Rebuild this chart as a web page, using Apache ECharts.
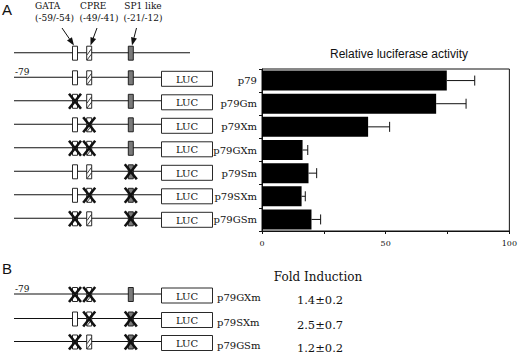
<!DOCTYPE html>
<html><head><meta charset="utf-8">
<script src="https://cdn.jsdelivr.net/npm/echarts@6/dist/echarts.min.js"></script>
<style>html,body{margin:0;padding:0;background:#fff;}#c{width:520px;height:353px;}</style>
</head><body><div id="c"></div>
<script>
// ---- data ----
const constructs = ['p79','p79Gm','p79Xm','p79GXm','p79Sm','p79SXm','p79GSm'];
const activity = [74.7,70.4,42.9,16.4,18.8,16.0,20.0];
const activitySd = [11.3,12.1,8.7,2.1,3.3,1.5,3.7];
const gataMut = [0,1,0,1,0,0,1];
const cpreMut = [0,0,1,1,0,1,0];
const sp1Mut  = [0,0,0,0,1,1,1];
const foldConstructs = ['p79GXm','p79SXm','p79GSm'];
const foldMean = [1.4,2.5,1.2];
const foldSd = [0.2,0.7,0.2];
const xTickLabels = [0,50,100];
const elementNames = ['GATA','CPRE','SP1 like'];
const elementPos = ['(-59/-54)','(-49/-41)','(-21/-12)'];

// ---- styles / layout ----
const SERIF = 'DejaVu Serif';
const SANS = 'Liberation Sans';
const INK = '#111';
const G = [];
function txt(t, x, y, size, align, valign, family, extra) {
  G.push(Object.assign({type:'text', silent:true, style:{text:t, x:x, y:y,
    font: size + 'px "' + (family||SERIF) + '"', fontSize:size, fontFamily:family||SERIF,
    fill:INK, align:align, verticalAlign:valign, textAlign:align, textVerticalAlign:valign}}, extra||{}));
}
function ln(x1,y1,x2,y2,w){ G.push({type:'line', silent:true, shape:{x1,y1,x2,y2}, style:{stroke:INK, lineWidth:w||1}}); }
function rect(x,y,w,h,fill){ G.push({type:'rect', silent:true, shape:{x,y,width:w,height:h}, style:{fill:fill, stroke:INK, lineWidth:0.9}}); }

const LX0 = 14, LUCX = 161.5, LUCW = 51, BW = 5, BH = 14;
const elemX = [75, 89.2, 130.8];

function cross(cx, cy){ ln(cx-6, cy-7.5, cx+6, cy+7.5, 2.6); ln(cx+6, cy-7.5, cx-6, cy+7.5, 2.6); }
function construct(y, gm, cm, sm, withLuc){
  ln(LX0, y, withLuc ? LUCX : 190, y, 1.1);
  const by = y - BH/2 + 0.5;
  // GATA
  rect(elemX[0]-BW/2, by, BW, BH, '#fff');
  // CPRE hatched
  rect(elemX[1]-BW/2, by, BW, BH, '#fff');
  ln(elemX[1]-BW/2+0.4, by+BH*0.62, elemX[1]+BW/2-0.4, by+BH*0.2, 0.8);
  ln(elemX[1]-BW/2+0.4, by+BH*0.98, elemX[1]+BW/2-0.4, by+BH*0.58, 0.8);
  // SP1 like
  rect(elemX[2]-BW/2, by, BW, BH, '#7a7a7a');
  if (gm) cross(elemX[0], y+0.5);
  if (cm) cross(elemX[1], y+0.5);
  if (sm) cross(elemX[2], y+0.5);
  if (withLuc){
    rect(LUCX, y-6, LUCW, 15, '#fff');
    txt('LUC', LUCX+LUCW/2, y+2, 10, 'center', 'middle');
  }
}

// panel letters
txt('A', 2, 9, 15, 'left', 'middle', SANS);
txt('B', 2, 268, 15, 'left', 'middle', SANS);

// element labels and arrows
txt(elementNames[0], 35, 5.5, 9, 'left', 'middle');
txt(elementPos[0], 35, 17.5, 9, 'left', 'middle');
txt(elementNames[1], 80, 5.5, 9, 'left', 'middle');
txt(elementPos[1], 79.5, 17.5, 9, 'left', 'middle');
txt(elementNames[2], 143, 5.5, 9, 'center', 'middle');
txt(elementPos[2], 143, 17.5, 9, 'center', 'middle');
function arrow(x1,y1,x2,y2){
  const dx=x2-x1, dy=y2-y1, L=Math.hypot(dx,dy), ux=dx/L, uy=dy/L;
  const hl=8, hw=3;
  const bx=x2-ux*hl, by=y2-uy*hl;
  ln(x1,y1,bx,by,1);
  G.push({type:'polygon', silent:true, shape:{points:[[x2,y2],[bx-uy*hw,by+ux*hw],[bx+uy*hw,by-ux*hw]]}, style:{fill:INK}});
}
arrow(62, 28, 74, 45.5);
arrow(97, 28, 90.5, 45.5);
arrow(136.5, 28, 132, 45.5);

// reference construct
construct(52.7, 0, 0, 0, false);

// panel A constructs
constructs.forEach((c, i) => {
  const y = 77.3 + 23.5*i;
  construct(y, gataMut[i], cpreMut[i], sp1Mut[i], true);
  if (i === 0) txt('-79', 15, y-5, 9, 'left', 'middle');
});

// panel B
txt('Fold Induction', 318, 277, 12, 'center', 'middle');
foldConstructs.forEach((c, k) => {
  const i = constructs.indexOf(c);
  const y = [294, 318.5, 341.5][k];
  construct(y, gataMut[i], cpreMut[i], sp1Mut[i], true);
  if (k === 0) txt('-79', 15, y-5, 9, 'left', 'middle');
  txt(c, 217, y+3.5, 10, 'left', 'middle');
  txt(foldMean[k].toFixed(1) + '\u00b1' + foldSd[k].toFixed(1), 320, y+6, 11.5, 'center', 'middle');
});

// chart title
txt('Relative luciferase activity', 399, 54, 12, 'center', 'middle', SANS);

const chart = echarts.init(document.getElementById('c'), null, {renderer:'svg'});
chart.setOption({
  animation:false,
  backgroundColor:'#fff',
  grid:{left:262, top:69, width:252, height:162, show:true, borderColor:INK, borderWidth:1, containLabel:false},
  xAxis:{type:'value', min:0, max:100, interval:25,
    axisLine:{show:true, lineStyle:{color:INK, width:1}},
    axisTick:{show:true, length:3, lineStyle:{color:INK}},
    splitLine:{show:false},
    axisLabel:{formatter:v => xTickLabels.includes(v) ? String(v) : '', fontFamily:SERIF, fontSize:8, color:INK, margin:8}},
  yAxis:{type:'category', inverse:true, data:constructs,
    axisLine:{show:true, lineStyle:{color:INK, width:1}},
    axisTick:{show:true, length:3, lineStyle:{color:INK}},
    axisLabel:{fontFamily:SERIF, fontSize:10, color:INK, margin:5, padding:[5,0,0,0]}},
  series:[
    {type:'bar', data:activity, barWidth:20, itemStyle:{color:'#000'}, z:2},
    {type:'custom', z:3, encode:{x:1, y:0},
      data: constructs.map((c,i)=>[i, activity[i], activitySd[i]]),
      renderItem:(params, api)=>{
        const ci = api.value(0), v = api.value(1), sd = api.value(2);
        const p0 = api.coord([v, ci]), p1 = api.coord([v+sd, ci]);
        const h = 5;
        return {type:'group', children:[
          {type:'line', shape:{x1:p0[0], y1:p0[1], x2:p1[0], y2:p1[1]}, style:{stroke:INK, lineWidth:1}},
          {type:'line', shape:{x1:p1[0], y1:p1[1]-h, x2:p1[0], y2:p1[1]+h}, style:{stroke:INK, lineWidth:1}}
        ]};
      }}
  ],
  graphic:{elements:G}
});
</script></body></html>
